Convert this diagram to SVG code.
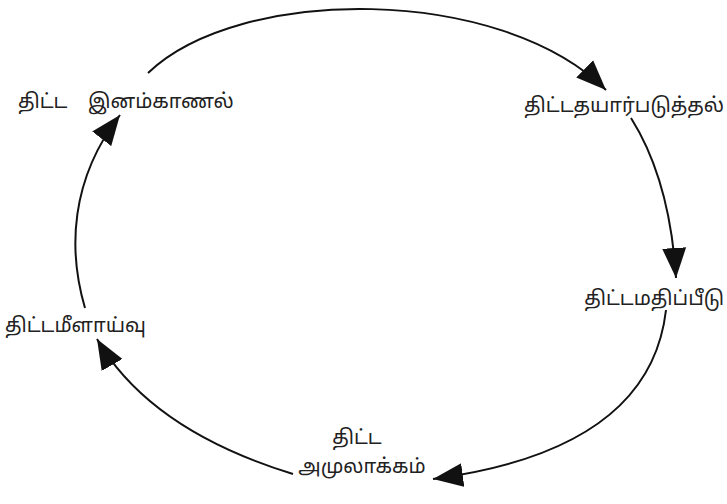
<svg xmlns="http://www.w3.org/2000/svg" width="727" height="504" viewBox="0 0 727 504">
<style>
.lbl{font-family:"Noto Sans Tamil","Latha","Noto Sans","DejaVu Sans",sans-serif;font-size:20px;fill:#222}
.arc{fill:none;stroke:#111;stroke-width:2}
</style>
<defs>
<marker id="ah" markerUnits="userSpaceOnUse" markerWidth="32" markerHeight="26" viewBox="0 0 32 26" refX="30" refY="13" orient="auto">
<path d="M0,1 L30,13 L0,25 Z" fill="#111"/>
</marker>
</defs>
<rect width="727" height="504" fill="#fff"/>
<g id="connectors">
<path class="arc" d="M148,73 C240,-15 500,-15 606,90" marker-end="url(#ah)"/>
<path class="arc" d="M631,118 Q670,180 676,278" marker-end="url(#ah)"/>
<path class="arc" d="M666,310 Q650,450 433,479" marker-end="url(#ah)"/>
<path class="arc" d="M293,474 Q150,430 97,339" marker-end="url(#ah)"/>
<path class="arc" d="M85,308 C68,250 70,180 120,115" marker-end="url(#ah)"/>
</g>
<g id="n1"><text class="lbl" x="18" y="108">திட்ட<tspan x="88">இனம்காணல்</tspan></text></g>
<g id="n2"><text class="lbl" x="724" y="112" text-anchor="end">திட்டதயார்படுத்தல்</text></g>
<g id="n3"><text class="lbl" x="724" y="305" text-anchor="end">திட்டமதிப்பீடு</text></g>
<g id="n4"><text class="lbl" x="5" y="332">திட்டமீளாய்வு</text></g>
<g id="n5"><text class="lbl" x="357" y="444" text-anchor="middle">திட்ட</text><text class="lbl" x="362" y="473" text-anchor="middle">அமுலாக்கம்</text></g>
</svg>
